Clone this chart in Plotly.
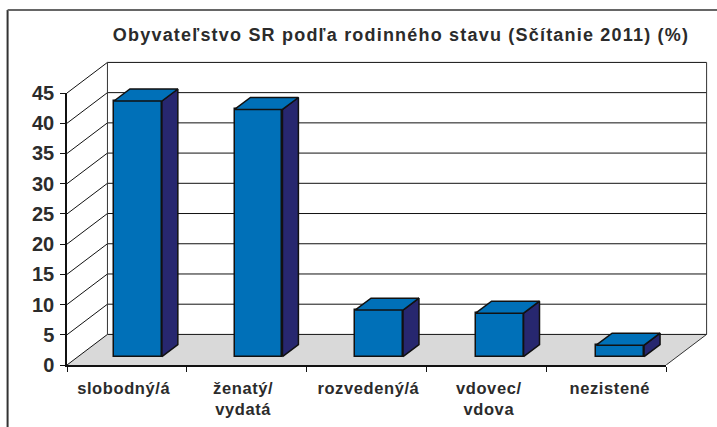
import plotly.graph_objects as go

TITLE = "Obyvateľstvo SR podľa rodinného stavu (Sčítanie 2011) (%)"
categories = ["slobodný/á", "ženatý/<br>vydatá", "rozvedený/á", "vdovec/<br>vdova", "nezistené"]
values = [42.3, 40.9, 7.7, 7.2, 1.9]
y_ticks = [0, 5, 10, 15, 20, 25, 30, 35, 40, 45]

W, H = 717, 427
L, R, T, B = 66.5, 666.5, 92.7, 364.0   # front plane of the chart, in pixels
BOTTOM_FIX = 1
INK = "#111111"
TEXT = "#2b2b2b"
FRONT = "#0070b8"
SIDE = "#27276f"
FLOOR = "#d9d9d9"
BAR_W = 0.4

# 3-D projection, in axis units
DX, DY = 0.3375, 5.06        # wall depth
BDX, BDY = 0.133, 1.98       # bar depth
OX, OY = 0.092, 1.38         # bar inset from the front of the floor
DRIFT = 0.006                # bar spacing is slightly wider than the tick spacing
PADX, PADY = 0.02, 0.4       # room so the far wall lines are not clipped
XMIN, XMAX = -0.5, 4.5
YMAX = y_ticks[-1]
X_RANGE = [XMIN, XMAX + DX + PADX]
Y_RANGE = [0, YMAX + DY + PADY]
UX = (R - L) / (XMAX - XMIN)
UY = (B - T) / YMAX
# small lateral nudges of the category labels, seen in the reference
LABEL_NUDGE = [-0.027, -0.03, 0.015, 0.02, 0.03]


def poly(points):
    return [p[0] for p in points] + [points[0][0], None], [p[1] for p in points] + [points[0][1], None]


def join(polys):
    xs, ys = [], []
    for p in polys:
        a, b = poly(p)
        xs += a
        ys += b
    return xs, ys


PLOT_R = L + (X_RANGE[1] - XMIN) * UX
PLOT_T = B - Y_RANGE[1] * UY


def px_x(px):
    return (px - L) / (PLOT_R - L)


def px_y(px):
    return (B - px) / (B - PLOT_T)


fig = go.Figure()

# floor
fx, fy = poly([(XMIN, 0), (XMAX, 0), (XMAX + DX, DY), (XMIN + DX, DY)])
fig.add_trace(go.Scatter(x=fx, y=fy, mode="lines", fill="toself", fillcolor=FLOOR,
                         line=dict(width=0), hoverinfo="skip", xaxis="x", yaxis="y"))

# walls and grid
gx, gy = [], []
for v in y_ticks:
    gx += [XMIN, XMIN + DX, XMAX + DX, None]
    gy += [v, v + DY, v + DY, None]
fig.add_trace(go.Scatter(x=gx, y=gy, mode="lines", line=dict(color=INK, width=1),
                         hoverinfo="skip", xaxis="x", yaxis="y"))
fig.add_trace(go.Scatter(x=[XMIN + DX, XMIN + DX, None, XMAX + DX, XMAX + DX, XMAX],
                         y=[DY, YMAX + DY, None, YMAX + DY, DY, 0],
                         mode="lines", line=dict(color="#333333", width=1),
                         hoverinfo="skip", xaxis="x", yaxis="y"))

# bar front faces
offsets = [OX - BAR_W / 2 + i * DRIFT for i in range(len(values))]
fig.add_trace(go.Bar(x=categories, y=values, base=OY, width=BAR_W, offset=offsets,
                     marker=dict(color=FRONT, line=dict(color=INK, width=1.5)),
                     xaxis="x2", yaxis="y2"))

tops, sides = [], []
for i, v in enumerate(values):
    x0 = i + offsets[i]
    x1 = x0 + BAR_W
    y0 = OY
    y1 = OY + v
    tops.append([(x0, y1), (x1, y1), (x1 + BDX, y1 + BDY), (x0 + BDX, y1 + BDY)])
    sides.append([(x1, y0), (x1 + BDX, y0 + BDY), (x1 + BDX, y1 + BDY), (x1, y1)])
sx, sy = join(sides)
tx, ty = join(tops)
fig.add_trace(go.Scatter(x=sx, y=sy, mode="lines", fill="toself", fillcolor=SIDE,
                         line=dict(color=INK, width=1.5), hoverinfo="skip",
                         xaxis="x3", yaxis="y3"))
fig.add_trace(go.Scatter(x=tx, y=ty, mode="lines", fill="toself", fillcolor=FRONT,
                         line=dict(color=INK, width=1.5), hoverinfo="skip",
                         xaxis="x3", yaxis="y3"))

# front axes: a subplot that spans only the front plane
fig.add_trace(go.Scatter(x=[XMIN, XMAX], y=[0, YMAX], mode="none", hoverinfo="skip",
                         xaxis="x4", yaxis="y4"))

FONT = "Liberation Sans, Arial, sans-serif"
hidden_x = dict(type="linear", range=X_RANGE, visible=False, fixedrange=True)
hidden_y = dict(range=Y_RANGE, visible=False, fixedrange=True)
boundaries = [XMIN + i for i in range(len(categories) + 1)]
fig.update_layout(
    width=W, height=H, autosize=False,
    margin=dict(l=L, r=W - PLOT_R, t=PLOT_T, b=H - B - BOTTOM_FIX, pad=0),
    paper_bgcolor="white", plot_bgcolor="rgba(0,0,0,0)",
    showlegend=False, bargap=0,
    xaxis=hidden_x,
    yaxis=hidden_y,
    xaxis2=dict(type="category", categoryorder="array", categoryarray=categories, overlaying="x",
                range=X_RANGE, visible=False, fixedrange=True),
    yaxis2=dict(overlaying="y", **hidden_y),
    xaxis3=dict(overlaying="x", **hidden_x),
    yaxis3=dict(overlaying="y", **hidden_y),
    xaxis4=dict(type="linear", domain=[0, px_x(R)], anchor="y4", range=[XMIN, XMAX],
                tickvals=[i + n for i, n in enumerate(LABEL_NUDGE)], ticktext=categories,
                ticks="", minor=dict(tickvals=boundaries, ticks="outside", ticklen=5, tickwidth=1,
                                     tickcolor=INK, showgrid=False),
                showline=True, linecolor=INK, linewidth=1.5, showgrid=False, zeroline=False,
                tickangle=0, tickfont=dict(family=FONT, size=16.5, color=TEXT, weight="bold"),
                fixedrange=True, ticklabelstandoff=7),
    yaxis4=dict(domain=[0, px_y(T)], anchor="x4", range=[0, YMAX], tickvals=y_ticks,
                ticks="outside", ticklen=5, tickwidth=1,
                tickcolor=INK, showline=True, linecolor=INK, linewidth=1.5, showgrid=False, zeroline=False,
                tickfont=dict(family=FONT, size=20, color=TEXT, weight="bold"),
                fixedrange=True, ticklabelstandoff=2),
    annotations=[dict(text="<b>" + TITLE + "</b>", xref="paper", yref="paper",
                      x=px_x(401), y=px_y(35), xanchor="center", yanchor="middle", showarrow=False,
                      font=dict(family=FONT, size=18, color=TEXT))],
    shapes=[
        dict(type="line", xref="paper", yref="paper", x0=px_x(7), x1=px_x(7), y0=px_y(10), y1=px_y(430),
             line=dict(color="#333333", width=2)),
        dict(type="line", xref="paper", yref="paper", x0=px_x(7), x1=px_x(720), y0=px_y(10), y1=px_y(10),
             line=dict(color="#666666", width=2)),
    ],
)
page_css = """
document.body.style.margin = '0';
var s = document.createElement('style');
s.textContent = '.annotation-text{letter-spacing:1.2px} .x4tick text{letter-spacing:0.6px}';
document.head.appendChild(s);
"""
fig.write_html("out.html", config=dict(displayModeBar=False), post_script=page_css)
